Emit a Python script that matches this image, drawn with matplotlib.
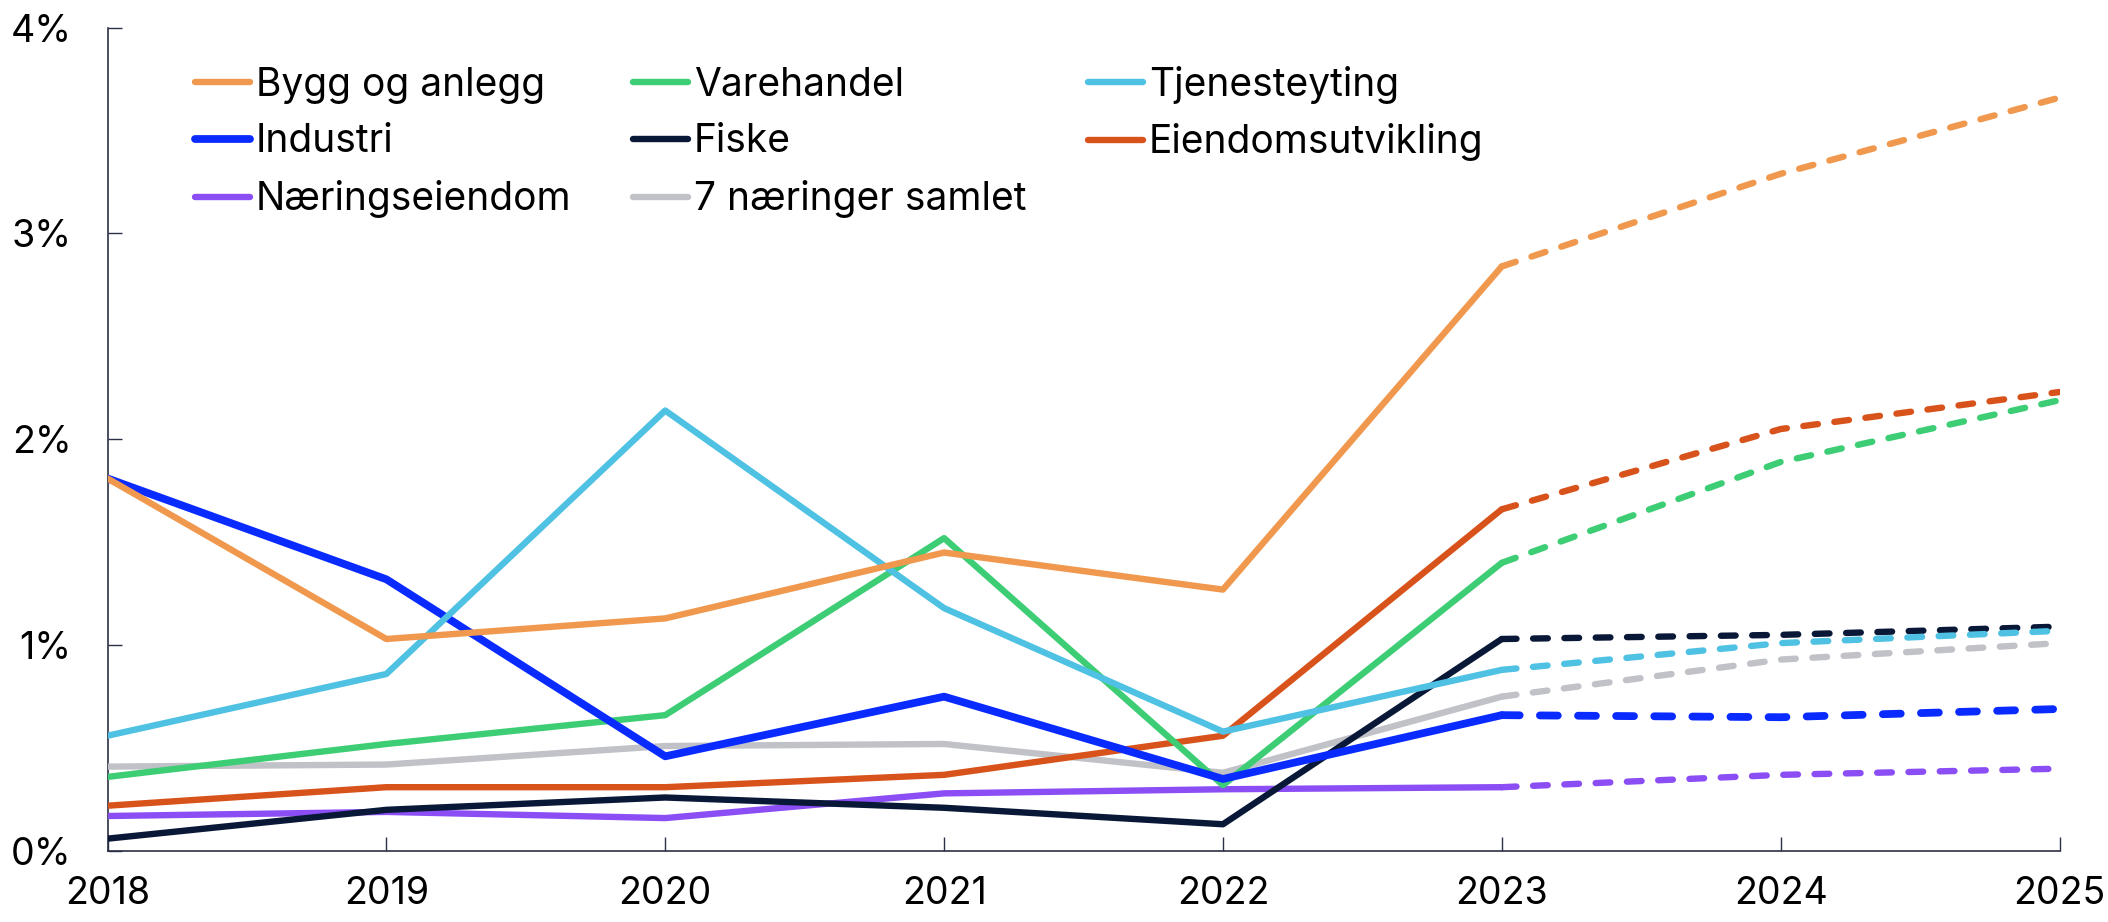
import matplotlib.pyplot as plt
from matplotlib.ticker import FuncFormatter

plt.rcParams['font.family'] = ['Inter', 'DejaVu Sans']

years = [2018, 2019, 2020, 2021, 2022, 2023, 2024, 2025]
last_actual = 2023

bygg = [1.81, 1.03, 1.13, 1.45, 1.27, 2.84, 3.29, 3.66]
varehandel = [0.36, 0.52, 0.66, 1.52, 0.32, 1.40, 1.89, 2.19]
tjeneste = [0.56, 0.86, 2.14, 1.18, 0.58, 0.88, 1.01, 1.07]
industri = [1.81, 1.32, 0.46, 0.75, 0.35, 0.66, 0.65, 0.69]
fiske = [0.06, 0.20, 0.26, 0.21, 0.13, 1.03, 1.05, 1.09]
eiendomsutv = [0.22, 0.31, 0.31, 0.37, 0.56, 1.66, 2.05, 2.23]
naering = [0.17, 0.19, 0.16, 0.28, 0.30, 0.31, 0.37, 0.40]
samlet = [0.41, 0.42, 0.51, 0.52, 0.38, 0.75, 0.93, 1.01]

series = [
    ('Bygg og anlegg', bygg, '#F0984E', 4.6),
    ('Industri', industri, '#0A2BFF', 5.6),
    ('Næringseiendom', naering, '#8B4EF5', 4.6),
    ('Varehandel', varehandel, '#3DCD74', 4.6),
    ('Fiske', fiske, '#0A1838', 4.6),
    ('7 næringer samlet', samlet, '#C0C2C8', 4.6),
    ('Tjenesteyting', tjeneste, '#4FC1E3', 4.6),
    ('Eiendomsutvikling', eiendomsutv, '#D8531B', 4.6),
]
# drawing order (back to front)
draw_order = ['7 næringer samlet', 'Næringseiendom', 'Fiske', 'Eiendomsutvikling',
              'Varehandel', 'Industri', 'Tjenesteyting', 'Bygg og anlegg']

fig = plt.figure(figsize=(21.08, 9.22), dpi=100)
ax = fig.add_axes([0.051, 0.077, 0.926, 0.893])

k = years.index(last_actual)
handles = {}
for i, name in enumerate(draw_order):
    _, vals, col, lw = next(s for s in series if s[0] == name)
    ln, = ax.plot(years[:k + 1], vals[:k + 1], color=col, lw=lw, zorder=3 + i,
                  solid_capstyle='round', solid_joinstyle='round', label=name)
    # forecast part, dashed
    ax.plot(years[k:], vals[k:], color=col, lw=lw, zorder=3 + i,
            linestyle=(0, (2.3, 2.6)), dash_capstyle='round')
    handles[name] = ln

ax.set_xlim(2018, 2025)
ax.set_ylim(0, 4)
ax.set_xticks(years)
ax.set_yticks([0, 1, 2, 3, 4])
ax.yaxis.set_major_formatter(FuncFormatter(lambda v, p: f'{v:.0f}%'))

for sp in ['top', 'right']:
    ax.spines[sp].set_visible(False)
for sp in ['left', 'bottom']:
    ax.spines[sp].set_color('#2b3044')
    ax.spines[sp].set_linewidth(1.2)
ax.tick_params(axis='both', direction='in', length=10, width=1.0, color='#2b3044',
               labelsize=27, labelcolor='black')
ax.tick_params(axis='x', pad=18)
ax.tick_params(axis='y', pad=26)

leg = ax.legend([handles[s[0]] for s in series], [s[0] for s in series],
                ncol=3, frameon=False, loc='upper left', bbox_to_anchor=(0.045, 0.954),
                fontsize=28, handlelength=1.4, handletextpad=0.15,
                columnspacing=1.6, labelspacing=0.51, borderaxespad=0, borderpad=0)

fig.savefig('out.png', dpi=100)
